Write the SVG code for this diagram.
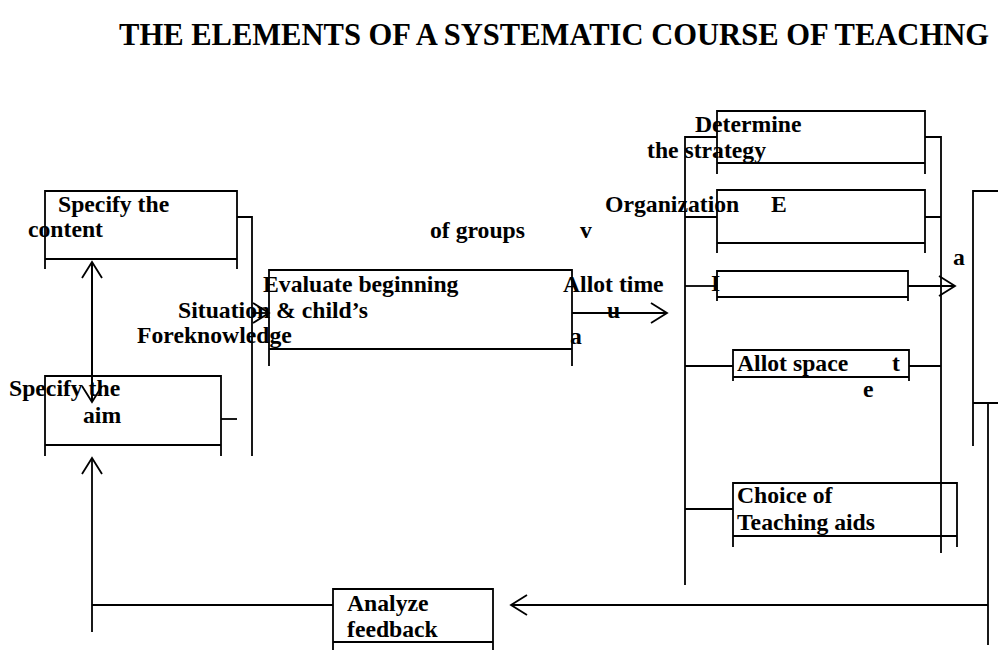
<svg xmlns="http://www.w3.org/2000/svg" width="998" height="650" viewBox="0 0 998 650">
<defs>
<style>
.t{font-family:"Liberation Serif","Times New Roman",serif;font-weight:bold;font-size:23.7px;fill:#000}
.title{font-family:"Liberation Serif","Times New Roman",serif;font-weight:bold;font-size:30.5px;fill:#000}
.b{fill:none;stroke:#000;stroke-width:1.8}
.c{fill:none;stroke:#000;stroke-width:1.8}
.a{marker-end:url(#ah)}
</style>
<marker id="ah" markerUnits="userSpaceOnUse" markerWidth="20" markerHeight="24" viewBox="-18 -12 20 24" refX="0" refY="0" orient="auto">
<path d="M-16,-10 L0,0 L-16,10" fill="none" stroke="#000" stroke-width="1.8"/>
</marker>
</defs>
<rect width="998" height="650" fill="#fff"/>
<text class="title" x="119" y="45" textLength="870" lengthAdjust="spacingAndGlyphs">THE ELEMENTS OF A SYSTEMATIC COURSE OF TEACHNG</text>

<g id="connectors">
<path class="c" d="M237,217 H252 V456"/>
<path class="c" d="M221,419 H237"/>
<path class="c a" d="M92,402 V262"/>
<path class="c a" d="M92,262 V402"/>
<path class="c a" d="M252,313 H269"/>
<path class="c a" d="M572,313 H667"/>
<path class="c" d="M717,137 H685 V585"/>
<path class="c" d="M925,137 H941 V553"/>
<path class="c" d="M685,217 H717 M925,217 H941"/>
<path class="c" d="M685,286 H717"/>
<path class="c a" d="M908,286 H955"/>
<path class="c" d="M685,366 H733 M909,366 H941"/>
<path class="c" d="M685,509 H733"/>
<path class="c" d="M988,403 V645"/>
<path class="c a" d="M988,605 H511"/>
<path class="c" d="M333,605 H92"/>
<path class="c a" d="M92,632 V458"/>
</g>

<g id="content">
<path class="b" d="M45,269 V191 H237 V269 M45,259 H237"/>
<text class="t" x="58" y="212">Specify the</text>
<text class="t" x="28" y="237">content</text>
</g>

<g id="aim">
<path class="b" d="M45,456 V376 H221 V456 M45,445 H221"/>
<text class="t" x="9" y="396">Specify the</text>
<text class="t" x="83" y="423">aim</text>
</g>

<g id="evaluate">
<path class="b" d="M269,366 V270 H572 V366 M269,349 H572"/>
<text class="t" x="263" y="292">Evaluate beginning</text>
<text class="t" x="178" y="318">Situation &amp; child’s</text>
<text class="t" x="137" y="343">Foreknowledge</text>
</g>

<g id="midtext">
<text class="t" x="430" y="238">of groups</text>
<text class="t" x="580" y="238">v</text>
<text class="t" x="563" y="292">Allot time</text>
<text class="t" x="607" y="318">u</text>
<text class="t" x="570" y="344">a</text>
</g>

<g id="strategy">
<path class="b" d="M717,174 V111 H925 V174 M717,163 H925"/>
<text class="t" x="695" y="132">Determine</text>
<text class="t" x="647" y="158">the strategy</text>
</g>

<g id="organization">
<path class="b" d="M717,253 V190 H925 V253 M717,243 H925"/>
<text class="t" x="605" y="212">Organization</text>
<text class="t" x="771" y="212">E</text>
</g>

<g id="allot-time">
<path class="b" d="M717,301 V271 H908 V301 M717,297 H908"/>
<text class="t" x="711" y="291">I</text>
</g>

<g id="allot-space">
<path class="b" d="M733,381 V350 H909 V381 M733,377 H909"/>
<text class="t" x="737" y="371">Allot space</text>
<text class="t" x="892" y="371">t</text>
<text class="t" x="863" y="397">e</text>
</g>

<g id="aids">
<path class="b" d="M733,547 V483 H957 V547 M733,536 H957"/>
<text class="t" x="737" y="503">Choice of</text>
<text class="t" x="737" y="530">Teaching aids</text>
</g>

<g id="evaluation">
<path class="b" d="M973,446 V191 H1000 M973,403 H1000"/>
<text class="t" x="953" y="265">a</text>
</g>

<g id="feedback">
<path class="b" d="M333,652 V589 H493 V652 M333,642 H493"/>
<text class="t" x="347" y="611">Analyze</text>
<text class="t" x="347" y="637">feedback</text>
</g>
</svg>
